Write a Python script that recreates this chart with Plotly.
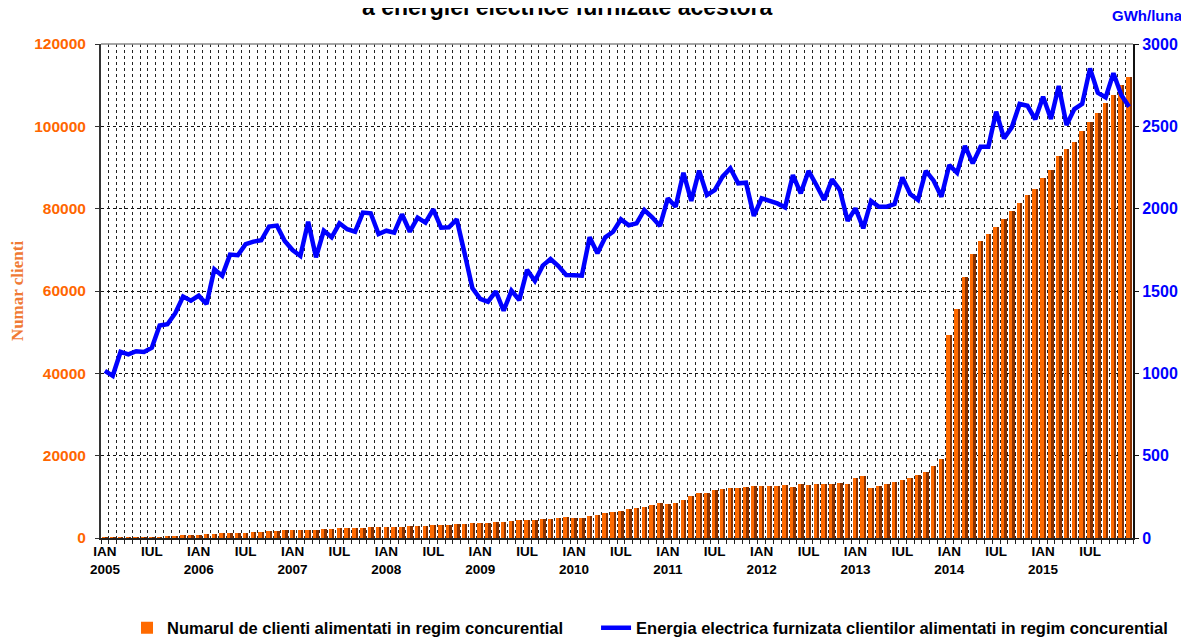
import plotly.graph_objects as go

years = list(range(2005, 2016))
month_names = ["IAN", "FEB", "MAR", "APR", "MAI", "IUN", "IUL", "AUG", "SEP", "OCT", "NOI", "DEC"]
categories = [f"{m} {y}" for y in years for m in month_names]

# Numarul de clienti alimentati in regim concurential
clients = [
    30, 40, 50, 60, 80, 100, 120, 150, 400, 500, 700, 700,
    800, 1000, 1000, 1200, 1200, 1300, 1300, 1500, 1500, 1800, 1800, 2000,
    2000, 2000, 2000, 2000, 2300, 2300, 2500, 2500, 2500, 2500, 2700, 2700,
    2700, 2700, 2700, 2900, 2900, 2900, 3100, 3100, 3100, 3400, 3400, 3560,
    3560, 3560, 3810, 3810, 4050, 4290, 4290, 4290, 4540, 4540, 4780, 5020,
    4780, 4780, 5270, 5510, 5990, 6240, 6480, 6970, 7210, 7450, 7940, 8420,
    8180, 8420, 9150, 10130, 10850, 11000, 11780, 11980, 12230, 12230, 12470, 12710,
    12710, 12710, 12710, 12960, 12470, 13200, 12960, 13200, 13200, 13200, 13440, 13200,
    14660, 15140, 12230, 12710, 13200, 13680, 14170, 14660, 15380, 16110, 17570, 19270,
    49390, 55700, 63400, 69000, 72140, 73840, 75470, 77490, 79430, 81370, 83310, 84770,
    87440, 89390, 92790, 94490, 96190, 98860, 101050, 103230, 105660, 107600, 109960, 111980,
]

# Energia electrica furnizata (GWh/luna)
energy = [
    1015, 985, 1130, 1115, 1134, 1130, 1156, 1290, 1298, 1365, 1466, 1441,
    1472, 1421, 1632, 1593, 1721, 1717, 1784, 1800, 1808, 1891, 1897, 1804,
    1749, 1713, 1921, 1705, 1866, 1826, 1911, 1875, 1860, 1976, 1972, 1846,
    1866, 1854, 1966, 1860, 1945, 1915, 1996, 1884, 1887, 1935, 1730, 1518,
    1452, 1435, 1498, 1380, 1502, 1445, 1628, 1561, 1654, 1694, 1652, 1597,
    1595, 1593, 1826, 1729, 1826, 1860, 1935, 1899, 1911, 1992, 1948, 1895,
    2063, 2012, 2218, 2047, 2231, 2083, 2113, 2194, 2245, 2154, 2158, 1956,
    2063, 2047, 2032, 2008, 2204, 2093, 2229, 2144, 2053, 2178, 2113, 1926,
    2002, 1881, 2047, 2012, 2012, 2028, 2190, 2089, 2053, 2229, 2170, 2073,
    2265, 2218, 2381, 2275, 2376, 2376, 2589, 2427, 2494, 2636, 2625, 2543,
    2680, 2545, 2745, 2508, 2605, 2636, 2852, 2704, 2676, 2822, 2690, 2619,
]

left_ticks = [0, 20000, 40000, 60000, 80000, 100000, 120000]
right_ticks = [0, 500, 1000, 1500, 2000, 2500, 3000]

name_bars = "Numarul de clienti alimentati in regim concurential"
name_line = "Energia electrica furnizata clientilor alimentati in regim concurential"
title_text = "a energiei electrice furnizate acestora"

x = list(range(len(categories)))
tick_pos, tick_txt = [], []
for i, c in enumerate(categories):
    m, y = c.split()
    if m == "IAN":
        tick_pos.append(i); tick_txt.append(f"IAN<br>{y}")
    elif m == "IUL":
        tick_pos.append(i); tick_txt.append("IUL")
boundaries = [i - 0.5 for i in range(len(categories) + 1)]

ORANGE = "#FF6600"
BLUE = "#0000FF"
BOLD = "Liberation Sans, Arial, sans-serif"

fig = go.Figure()
fig.add_trace(go.Bar(
    x=x, y=clients, name=name_bars, width=0.48, offset=-0.36, legend="legend",
    marker=dict(color="#FF6A00", line=dict(width=0)), hovertext=categories,
))
fig.add_trace(go.Bar(
    x=x, y=clients, name=name_bars, width=0.24, offset=0.12, showlegend=False,
    marker=dict(color="#8A3200", line=dict(width=0)), hovertext=categories,
))
fig.add_trace(go.Scatter(
    x=x, y=energy, name=name_line, mode="lines", yaxis="y2", legend="legend2",
    line=dict(color=BLUE, width=4.5), hovertext=categories,
))

legend_font = dict(size=16.5, color="black", family=BOLD, weight="bold")

# the page body adds an 8px margin, so the figure is sized/offset to compensate
fig.update_layout(
    width=1181, height=633,
    margin=dict(l=93, r=56, t=36, b=103, autoexpand=False),
    paper_bgcolor="white", plot_bgcolor="white",
    barmode="overlay", bargap=0,
    font=dict(family=BOLD, color="black"),
    xaxis=dict(
        automargin=False,
        range=[-0.5, len(categories) - 0.5],
        tickmode="array", tickvals=tick_pos, ticktext=tick_txt,
        ticks="", showgrid=False, zeroline=False,
        tickfont=dict(size=13.5, color="black", family=BOLD, weight="bold"),
        showline=True, linecolor="#222", linewidth=2,
        minor=dict(tickmode="array", tickvals=boundaries, ticks="outside", ticklen=4,
                   tickcolor="#222", showgrid=True, gridcolor="#222", griddash="dot", gridwidth=1),
    ),
    yaxis=dict(
        automargin=False,
        range=[0, 120000], tickmode="array", tickvals=left_ticks,
        ticktext=[str(v) for v in left_ticks],
        ticks="outside", ticklen=4, tickcolor="#333",
        showline=True, linecolor="#333", linewidth=2,
        showgrid=True, gridcolor="#111", griddash="dot", gridwidth=1,
        zeroline=False, ticklabelstandoff=6,
        tickfont=dict(size=15.5, color=ORANGE, family=BOLD, weight="bold"),
        title=dict(text="Numar clienti", standoff=8,
                   font=dict(size=17, color="#F07A34", family="Liberation Serif, Times New Roman, serif", weight="bold")),
    ),
    yaxis2=dict(
        automargin=False,
        range=[0, 3000], tickmode="array", tickvals=right_ticks,
        ticktext=[str(v) for v in right_ticks], overlaying="y", side="right",
        ticks="outside", ticklen=4, tickcolor="#111",
        showline=True, linecolor="#111", linewidth=2, showgrid=False, zeroline=False,
        tickfont=dict(size=16, color=BLUE, family=BOLD, weight="bold"),
    ),
    legend=dict(
        orientation="h", x=0.0252, xanchor="left", y=-0.182, yanchor="middle",
        font=legend_font, itemwidth=30,
    ),
    legend2=dict(
        orientation="h", x=0.4797, xanchor="left", y=-0.182, yanchor="middle",
        font=legend_font, itemwidth=30,
    ),
    shapes=[dict(type="line", xref="paper", yref="paper", x0=0, x1=1, y0=1, y1=1,
                 line=dict(color="#888", width=1.5))],
    annotations=[
        dict(text=title_text, xref="paper", yref="paper", x=0.452, y=1.074,
             xanchor="center", yanchor="middle", showarrow=False,
             font=dict(size=23, color="black", family=BOLD, weight="bold")),
        dict(text="GWh/luna", xref="paper", yref="paper", x=1.0136, y=1.0587,
             xanchor="center", yanchor="middle", showarrow=False,
             font=dict(size=15, color=BLUE, family=BOLD, weight="bold")),
    ],
)

fig.write_html("out.html")
